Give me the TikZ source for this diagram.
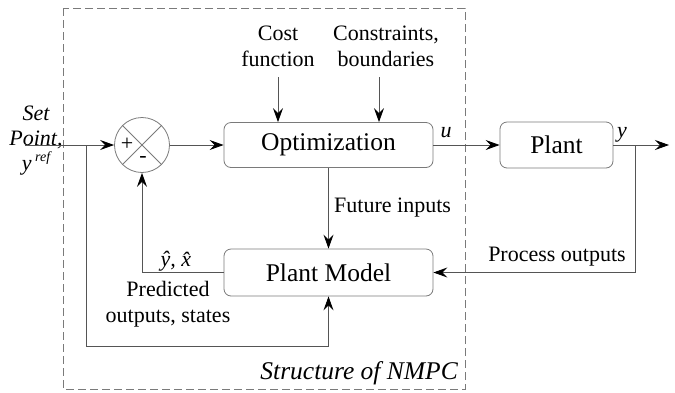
\documentclass[tikz,border=0pt]{standalone}
\usepackage{fontspec}
\setmainfont{Liberation Serif}
\usetikzlibrary{arrows.meta}
\definecolor{linec}{HTML}{555555}
\definecolor{boxc}{HTML}{7A7A7A}
\begin{document}
\begin{tikzpicture}[x=1pt,y=-1pt,
  box/.style={draw=boxc, rounded corners=7pt, line width=0.8pt, inner sep=0pt,
    font=\fontsize{25.5}{28}\selectfont},
  lbl/.style={font=\fontsize{22}{26}\selectfont, align=center, inner sep=0pt},
  conn/.style={draw=linec, line width=0.8pt},
  arr/.style={conn, -{Stealth[length=14pt,width=10pt,inset=5pt,black]}}]
\useasboundingbox (0,0) rectangle (675,392);
% frame
\draw[draw=boxc, dashed, dash pattern=on 8pt off 4pt, line width=0.8pt] (63,8) rectangle (465,389);
% nodes
\node[box, minimum width=209pt, minimum height=45pt] (opt) at (328.5,145) {Optimization};
\node[box, minimum width=113pt, minimum height=46pt] (plant) at (556.5,145) {Plant};
\node[box, minimum width=209pt, minimum height=47pt] (pm) at (328.5,272.5) {Plant Model};
\node[circle, draw=boxc, line width=0.8pt, minimum size=55pt, inner sep=0pt] (sum) at (142,145) {};
\draw[draw=boxc, line width=0.8pt] (sum.north west) -- (sum.south east) (sum.north east) -- (sum.south west);
\node[lbl] (plus) at (127,144) {+};
\node[lbl] (minus) at (143,159) {-};
% labels
\node[lbl] (cf) at (278,46) {Cost\\function};
\node[lbl] (cb) at (386,46) {Constraints,\\boundaries};
\node[lbl, font=\fontsize{22}{25}\selectfont\itshape] (sp) at (36,141) {Set\\Point,\\y\,\raisebox{0.9ex}{\fontsize{14}{14}\selectfont ref}};
\node[lbl] (ul) at (446,133) {\textit{u}};
\node[lbl] (yl) at (622,135) {\textit{y}};
\node[lbl, anchor=west] (fi) at (334,208) {Future inputs};
\node[lbl] (po) at (557,257) {Process outputs};
\node[lbl] (hat) at (180,261) {\textit{ŷ, x̂}};
\node[lbl] (pred) at (168,304) {Predicted\\outputs, states};
\node[lbl, anchor=east, font=\fontsize{25.5}{28}\selectfont\itshape] (st) at (458,373) {Structure of NMPC};
% coordinates
\coordinate (in) at (25,145);
\coordinate (br1) at (86,145);
\coordinate (bl) at (86,346);
\coordinate (cfa) at (278,77);
\coordinate (cba) at (379,77);
\coordinate (br2) at (635,145);
\coordinate (out) at (669,145);
% connectors
\draw[arr] (in) -- (sum.west);
\draw[conn] (br1) -- (bl);
\draw[arr] (bl) -| (pm.south);
\draw[arr] (pm.west) -| (sum.south);
\draw[arr] (sum.east) -- (opt.west);
\draw[arr] (cfa) -- (cfa |- opt.north);
\draw[arr] (cba) -- (cba |- opt.north);
\draw[arr] (opt.east) -- (plant.west);
\draw[arr] (opt.south) -- (pm.north);
\draw[arr] (plant.east) -- (out);
\draw[arr] (br2) |- (pm.east);
\end{tikzpicture}
\end{document}
